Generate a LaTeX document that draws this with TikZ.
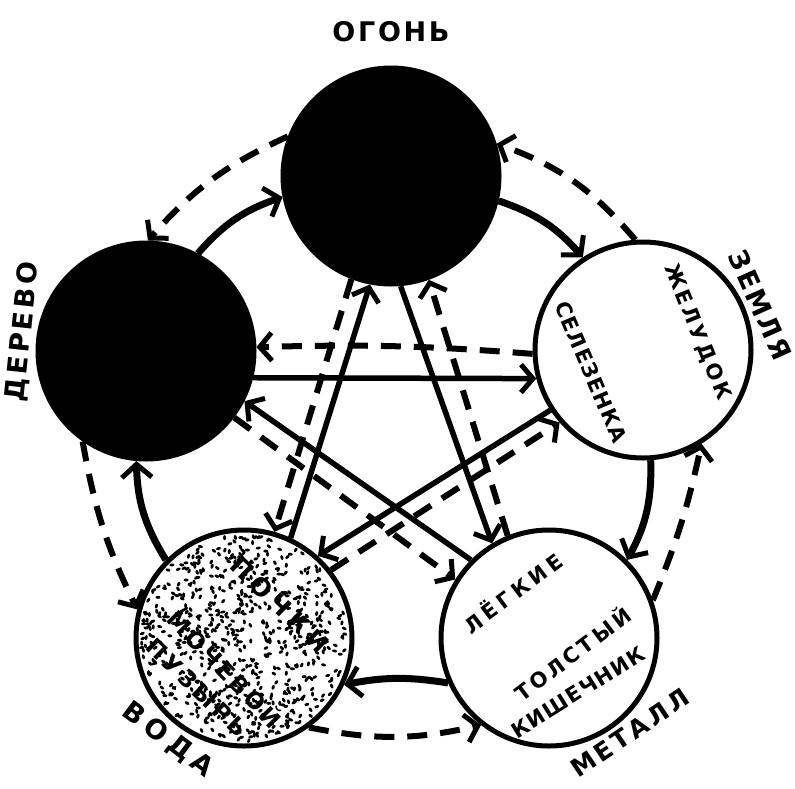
\documentclass[tikz,border=0pt]{standalone}
\usepackage{fontspec}
\setmainfont{DejaVu Sans}
\usepackage{tikz}
\usetikzlibrary{arrows.meta}

% letter spacing for the hand lettering
\newcommand\spaced[2]{{\addfontfeatures{LetterSpace=#1}#2}}

\begin{document}
\begin{tikzpicture}[x=1pt,y=-1pt,
  elem/.style={circle,draw,line width=5pt,minimum size=216pt,inner sep=0pt},
  gen/.style={line width=7pt,-{Straight Barb[length=13pt,width=30pt,line width=5pt]}},
  ctrl/.style={line width=5.5pt,-{Straight Barb[length=12pt,width=28pt,line width=5pt]}},
  rev/.style={line width=6pt,dash pattern=on 20pt off 13pt,-{Straight Barb[length=12pt,width=28pt,line width=5pt]}},
  lab/.style={font=\bfseries\fontsize{27}{27}\selectfont,inner sep=0pt},
  organ/.style={font=\bfseries\fontsize{21}{21}\selectfont,inner sep=0pt}
]
\useasboundingbox (0,0) rectangle (795,788);

% the five elements
\node[elem,fill=black] (fire)  at (391,176) {};
\node[elem,fill=black] (wood)  at (146,351) {};
\node[elem]            (earth) at (643,350) {};
\node[elem]            (metal) at (549,638) {};
\node[elem]            (water) at (244,638) {};

% stippled water
\pgfmathsetseed{42}
\foreach \i in {1,...,720}{
  \pgfmathsetmacro\rr{103*sqrt(rnd)}
  \pgfmathsetmacro\aa{360*rnd}
  \pgfmathsetmacro\bb{180*rnd}
  \fill[shift={(water.center)},rotate=\bb] (\aa:\rr) ellipse[x radius=2.5,y radius=1.5];
}

% generating cycle (outer, solid)
\draw[gen] (wood.62) to[bend left=15] (fire.191);
\draw[gen] (fire.-13) to[bend left=15] (earth.123);
\draw[gen] (earth.-86) to[bend left=15] (metal.45);
\draw[gen] (metal.204) to[bend right=10] (water.-25);
\draw[gen] (water.135) to[bend left=15] (wood.-95);

% reverse of the generating cycle (outer, dashed)
\draw[rev] (fire.159) to[bend right=12] (wood.89);
\draw[rev] (earth.94) to[bend right=15] (fire.17);
\draw[rev] (metal.20) to[bend right=5] (earth.-58);
\draw[rev] (water.-54) to[bend right=12] (metal.-128);
\draw[rev] (wood.-125) to[bend right=8] (water.165);

% controlling star (inner, solid)
\draw[ctrl] (wood.-14) -- (earth.195);
\draw[ctrl] (earth.213) -- (water.48);
\draw[ctrl] (water.65) -- (fire.-101);
\draw[ctrl] (fire.-85) -- (metal.121);
\draw[ctrl] (metal.135) -- (wood.-27);

% counter control (inner, dashed)
\draw[rev] (earth.182) to[bend right=3] (wood.2);
\draw[rev] (water.38) -- (earth.221);
\draw[rev] (fire.-111) -- (water.74);
\draw[rev] (metal.112) -- (fire.-70);
\draw[rev] (wood.-37) -- (metal.148);

% element names
\node[lab] (lfire)  at (391,32)              {\spaced{10}{ОГОНЬ}};
\node[lab,rotate=84]  (lwood)  at (23,332)   {\spaced{12}{ДЕРЕВО}};
\node[lab,rotate=-66] (learth) at (760,305)  {\spaced{8}{ЗЕМЛЯ}};
\node[lab,rotate=-37] (lwater) at (168,740)  {\spaced{22}{ВОДА}};
\node[lab,font=\bfseries\fontsize{25}{25}\selectfont,rotate=34] (lmetal) at (630,733) {\spaced{14}{МЕТАЛЛ}};

% organs
\node[organ,rotate=-68] (stomach) at (697,332) {\spaced{14}{ЖЕЛУДОК}};
\node[organ,rotate=-67] (spleen)  at (591,372) {\spaced{6}{СЕЛЕЗЕНКА}};
\node[organ,rotate=37]  (lungs)   at (512,592) {\spaced{22}{ЛЁГКИЕ}};
\node[organ,rotate=37]  (colon1)  at (572,653) {\spaced{16}{ТОЛСТЫЙ}};
\node[organ,rotate=32]  (colon2)  at (578,692) {\spaced{6}{КИШЕЧНИК}};
\node[organ,font=\bfseries\fontsize{25}{25}\selectfont,rotate=-44] (kidney) at (280,605) {\spaced{22}{ПОЧКИ}};
\node[organ,font=\bfseries\fontsize{23}{23}\selectfont,rotate=-46] (blad1)  at (226,668) {\spaced{14}{МОЧЕВОЙ}};
\node[organ,font=\bfseries\fontsize{23}{23}\selectfont,rotate=-44] (blad2)  at (197,688) {\spaced{16}{ПУЗЫРЬ}};
\end{tikzpicture}
\end{document}
